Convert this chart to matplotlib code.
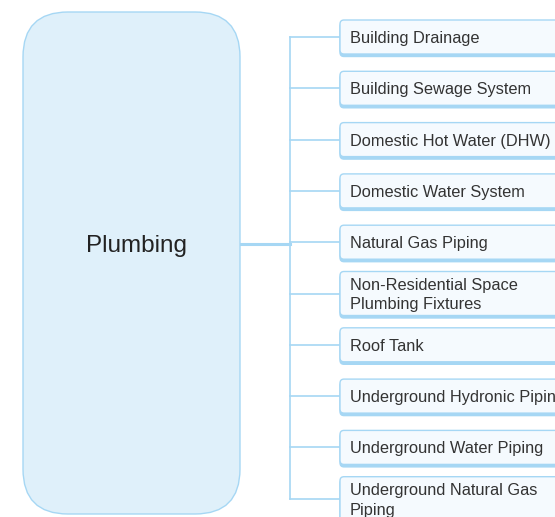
import matplotlib.pyplot as plt
from matplotlib.patches import FancyBboxPatch

root_label = "Plumbing"
child_labels = [
    "Building Drainage",
    "Building Sewage System",
    "Domestic Hot Water (DHW)",
    "Domestic Water System",
    "Natural Gas Piping",
    "Non-Residential Space\nPlumbing Fixtures",
    "Roof Tank",
    "Underground Hydronic Piping",
    "Underground Water Piping",
    "Underground Natural Gas\nPiping",
]

W, H = 555, 517
line_col = "#a6d7f4"
root_fill = "#dff0fa"
child_fill = "#f5fafe"
text_col = "#333333"

fig = plt.figure(figsize=(W / 100, H / 100), dpi=100)
ax = fig.add_axes([0, 0, 1, 1])
ax.set_xlim(0, W)
ax.set_ylim(H, 0)
ax.axis("off")

# root node
rx0, rx1, ry0, ry1 = 23, 240, 12, 514
ax.add_patch(FancyBboxPatch((rx0 + 45, ry0 + 45), rx1 - rx0 - 90, ry1 - ry0 - 90,
                            boxstyle="round,pad=45", fc=root_fill, ec=line_col,
                            lw=1.0, zorder=2))
rcy = 244
ax.text(137, rcy + 2, root_label, ha="center", va="center",
        fontsize=17.5, color="#222222", family="Liberation Sans", zorder=3)

# children
cx0 = 340
cx1 = 580
trunk_x = 290
first_cy, step = 37, 51.3
centers = [first_cy + i * step for i in range(len(child_labels))]

ax.plot([rx1, trunk_x], [rcy, rcy], color=line_col, lw=2.2, zorder=1)
ax.plot([trunk_x, trunk_x], [centers[0], centers[-1]], color=line_col, lw=1.2, zorder=1)

for cy, lab in zip(centers, child_labels):
    n = lab.count("\n") + 1
    h = 34 if n == 1 else 44
    y0 = cy - h / 2
    ax.plot([trunk_x, cx0], [cy, cy], color=line_col, lw=1.2, zorder=1)
    # bottom shadow border
    ax.add_patch(FancyBboxPatch((cx0 + 4, y0 + 4 + 2.5), cx1 - cx0 - 8, h - 8,
                                boxstyle="round,pad=4", fc=line_col, ec=line_col,
                                lw=1.0, zorder=2))
    ax.add_patch(FancyBboxPatch((cx0 + 4, y0 + 4), cx1 - cx0 - 8, h - 8,
                                boxstyle="round,pad=4", fc=child_fill, ec=line_col,
                                lw=1.0, zorder=3))
    ax.text(cx0 + 10, cy + 1.5, lab, ha="left", va="center", fontsize=11.8,
            color=text_col, family="Liberation Sans", linespacing=1.4, zorder=4)

fig.savefig("out.png", dpi=100, facecolor="white")
